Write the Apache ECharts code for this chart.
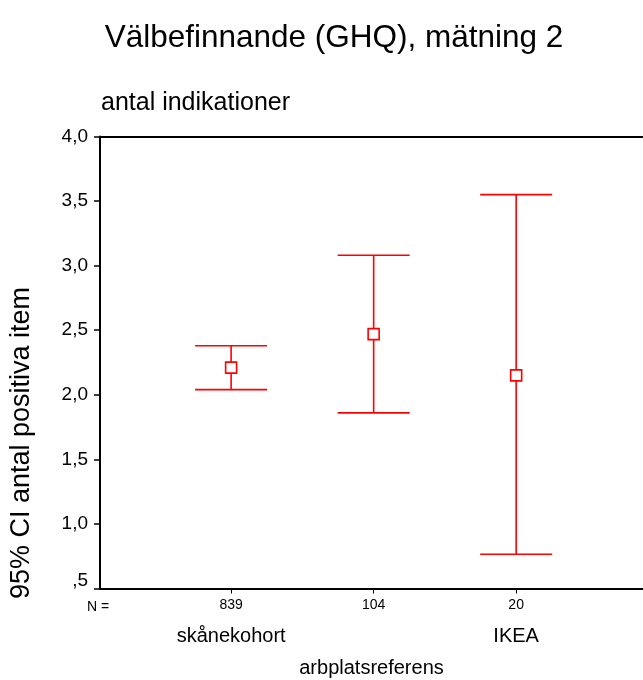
<!DOCTYPE html>
<html><head><meta charset="utf-8">
<script src="https://cdn.jsdelivr.net/npm/echarts@6/dist/echarts.min.js"></script>
<style>html,body{margin:0;padding:0;background:#fff}#c{width:643px;height:680px}</style>
</head><body><div id="c"></div>
<script>
const categories = ['skånekohort', '', 'IKEA'];
const nValues = [839, 104, 20];
const means = [2.21, 2.47, 2.15];
const lower = [2.04, 1.86, 0.765];
const upper = [2.38, 3.08, 3.55];
const yTicks = [0.5, 1.0, 1.5, 2.0, 2.5, 3.0, 3.5, 4.0];

const positions = categories.map((c, i) => i + 1);
const data = positions.map((p, i) => [p, means[i], lower[i], upper[i]]);
const FONT = 'Liberation Sans, Arial, sans-serif';
const RED = '#ff0000';

const chart = echarts.init(document.getElementById('c'), null, {renderer: 'canvas'});
chart.setOption({
  animation: false,
  backgroundColor: '#fff',
  title: [
    {text: 'Välbefinnande (GHQ), mätning 2', left: 329, top: 17, textAlign: 'center',
     textStyle: {fontFamily: FONT, fontSize: 31.5, fontWeight: 'normal', color: '#000'}},
    {text: 'antal indikationer', left: 96, top: 86,
     textStyle: {fontFamily: FONT, fontSize: 25, fontWeight: 'normal', color: '#000'}}
  ],
  graphic: [
    {type: 'text', x: 22, y: 443, rotation: Math.PI / 2,
     style: {text: '95% CI antal positiva item', font: '27px ' + FONT, fill: '#000',
             textAlign: 'center', textVerticalAlign: 'middle'}},
    {type: 'text', x: 98, y: 607,
     style: {text: 'N =', font: '14px ' + FONT, fill: '#000', textAlign: 'center', textVerticalAlign: 'middle'}}
  ],
  grid: {left: 100, right: 0, top: 136.5, bottom: 91.5, containLabel: false, outerBoundsMode: 'none'},
  xAxis: [{
    type: 'value', min: 0.08, max: 3.89,
    name: 'arbplatsreferens', nameLocation: 'middle', nameGap: 70,
    nameTextStyle: {fontFamily: FONT, fontSize: 20, color: '#000'},
    axisLine: {show: true, onZero: false, lineStyle: {color: '#000', width: 2}},
    axisTick: {show: true, length: 5, customValues: positions, lineStyle: {color: '#000', width: 1}},
    axisLabel: {
      customValues: positions, margin: 7, color: '#000',
      formatter: function (v) {
        const i = Math.round(v) - 1;
        return '{n|' + nValues[i] + '}\n{c|' + (categories[i] || ' ') + '}';
      },
      rich: {
        n: {fontFamily: FONT, fontSize: 14, lineHeight: 20, color: '#000'},
        c: {fontFamily: FONT, fontSize: 20, lineHeight: 41, color: '#000'}
      }
    },
    splitLine: {show: false}
  }, {
    type: 'value', min: 0.08, max: 3.89, position: 'top',
    axisLine: {show: true, onZero: false, lineStyle: {color: '#000', width: 2}},
    axisTick: {show: false}, axisLabel: {show: false}, splitLine: {show: false}
  }],
  yAxis: {
    type: 'value', min: 0.5, max: 4.0, interval: 0.5,
    axisLine: {show: true, onZero: false, lineStyle: {color: '#000', width: 2}},
    axisTick: {show: true, length: 6, lineStyle: {color: '#000', width: 1.5}},
    axisLabel: {
      fontFamily: FONT, fontSize: 19, color: '#000', margin: 12,
      formatter: function (v) {
        if (yTicks.indexOf(v) < 0) return '';
        let s = v.toFixed(1).replace('.', ',');
        if (s.startsWith('0')) return '{low|' + s.slice(1) + '}';
        return s;
      },
      rich: {
        low: {fontFamily: FONT, fontSize: 19, color: '#000', padding: [0, 0, 16, 0]}
      }
    },
    splitLine: {show: false}
  },
  series: [{
    type: 'custom',
    data: data,
    renderItem: function (params, api) {
      const x = api.value(0);
      const pm = api.coord([x, api.value(1)]);
      const pl = api.coord([x, api.value(2)]);
      const pu = api.coord([x, api.value(3)]);
      const hw = 36, s = 5.5;
      const ls = {stroke: RED, lineWidth: 1.6};
      return {
        type: 'group',
        children: [
          {type: 'line', shape: {x1: pu[0], y1: pu[1], x2: pu[0], y2: pm[1] - s}, style: ls},
          {type: 'line', shape: {x1: pl[0], y1: pm[1] + s, x2: pl[0], y2: pl[1]}, style: ls},
          {type: 'line', shape: {x1: pu[0] - hw, y1: pu[1], x2: pu[0] + hw, y2: pu[1]}, style: ls},
          {type: 'line', shape: {x1: pl[0] - hw, y1: pl[1], x2: pl[0] + hw, y2: pl[1]}, style: ls},
          {type: 'rect', shape: {x: pm[0] - s, y: pm[1] - s, width: 2 * s, height: 2 * s},
           style: {stroke: RED, lineWidth: 1.6, fill: '#fff'}}
        ]
      };
    }
  }]
});
</script>
</body></html>
